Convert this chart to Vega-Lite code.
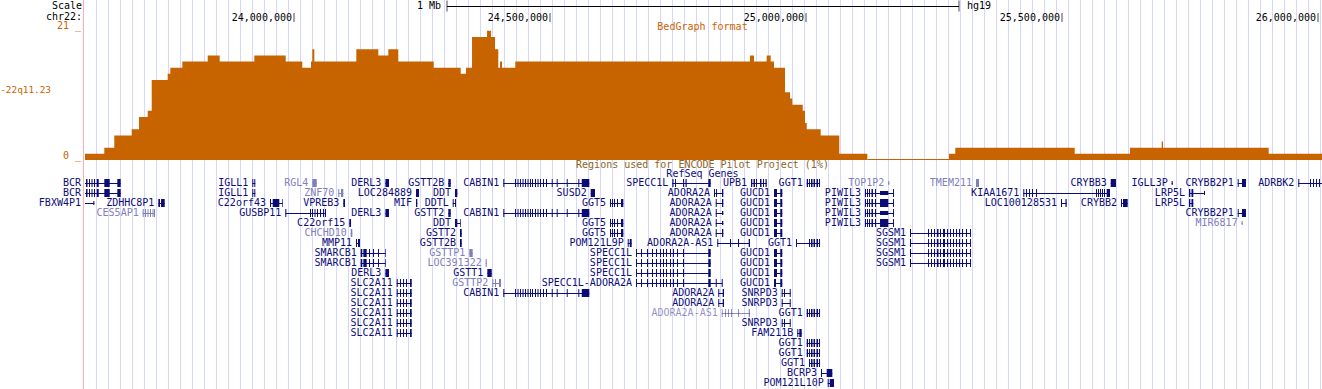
{
"$schema":"https://vega.github.io/schema/vega-lite/v6.json",
"width":1322,"height":389,"padding":0,"autosize":{"type":"none"},"background":"white",
"config":{"view":{"stroke":null},"text":{"font":"DejaVu Sans Mono","fontSize":10}},
"resolve":{"scale":{"y":"independent"}},
"layer":[
{"data":{"values":[{"pos":23614258},{"pos":23637696},{"pos":23661133},{"pos":23684571},{"pos":23708008},{"pos":23731446},{"pos":23754883},{"pos":23778321},{"pos":23801758},{"pos":23825196},{"pos":23848633},{"pos":23872071},{"pos":23895508},{"pos":23918946},{"pos":23942383},{"pos":23965821},{"pos":23989258},{"pos":24012696},{"pos":24036133},{"pos":24059571},{"pos":24083008},{"pos":24106446},{"pos":24129883},{"pos":24153321},{"pos":24176758},{"pos":24200196},{"pos":24223633},{"pos":24247071},{"pos":24270508},{"pos":24293946},{"pos":24317383},{"pos":24340821},{"pos":24364258},{"pos":24387696},{"pos":24411133},{"pos":24434571},{"pos":24458008},{"pos":24481446},{"pos":24504883},{"pos":24528321},{"pos":24551758},{"pos":24575196},{"pos":24598633},{"pos":24622071},{"pos":24645508},{"pos":24668946},{"pos":24692383},{"pos":24715821},{"pos":24739258},{"pos":24762696},{"pos":24786133},{"pos":24809571},{"pos":24833008},{"pos":24856446},{"pos":24879883},{"pos":24903321},{"pos":24926758},{"pos":24950196},{"pos":24973633},{"pos":24997071},{"pos":25020508},{"pos":25043946},{"pos":25067383},{"pos":25090821},{"pos":25114258},{"pos":25137696},{"pos":25161133},{"pos":25184571},{"pos":25208008},{"pos":25231446},{"pos":25254883},{"pos":25278321},{"pos":25301758},{"pos":25325196},{"pos":25348633},{"pos":25372071},{"pos":25395508},{"pos":25418946},{"pos":25442383},{"pos":25465821},{"pos":25489258},{"pos":25512696},{"pos":25536133},{"pos":25559571},{"pos":25583008},{"pos":25606446},{"pos":25629883},{"pos":25653321},{"pos":25676758},{"pos":25700196},{"pos":25723633},{"pos":25747071},{"pos":25770508},{"pos":25793946},{"pos":25817383},{"pos":25840821},{"pos":25864258},{"pos":25887696},{"pos":25911133},{"pos":25934571},{"pos":25958008},{"pos":25981446},{"pos":26004883}]},
 "mark":{"type":"rule","color":"#d6d6ff","strokeWidth":1},
 "encoding":{"x":{"field":"pos","type":"quantitative","scale":{"domain":[23425781,26007812],"nice":false,"zero":false},
  "axis":{"orient":"bottom","grid":false,"labels":false,"ticks":false,"domain":false,"title":null,"values":[24000000]}}}},
{"data":{"values":[{"start":23588800}]},"mark":{"type":"rule","color":"#f2b0b0","strokeWidth":1},
 "encoding":{"x":{"field":"start","type":"quantitative","axis":null}}},
{"data":{"values":[{"pos":23591800,"v":1},{"pos":23629500,"v":2},{"pos":23649000,"v":4},{"pos":23683000,"v":5},{"pos":23697300,"v":7},{"pos":23714300,"v":8},{"pos":23722100,"v":13},{"pos":23753300,"v":14},{"pos":23758400,"v":15},{"pos":23781900,"v":16},{"pos":23831500,"v":17},{"pos":23854900,"v":16},{"pos":23922500,"v":17},{"pos":23983800,"v":16},{"pos":24016200,"v":15},{"pos":24033200,"v":16},{"pos":24035800,"v":18},{"pos":24039700,"v":16},{"pos":24121700,"v":18},{"pos":24164700,"v":17},{"pos":24184200,"v":18},{"pos":24203700,"v":16},{"pos":24272900,"v":15},{"pos":24325600,"v":14},{"pos":24335900,"v":15},{"pos":24347700,"v":20},{"pos":24377000,"v":21},{"pos":24384800,"v":20},{"pos":24392600,"v":18},{"pos":24399000,"v":15},{"pos":24402400,"v":16},{"pos":24406300,"v":15},{"pos":24432200,"v":16},{"pos":24890600,"v":17},{"pos":24898400,"v":16},{"pos":24923200,"v":17},{"pos":24931100,"v":16},{"pos":24937500,"v":15},{"pos":24959000,"v":11},{"pos":24968800,"v":10},{"pos":24973200,"v":9},{"pos":24993600,"v":8},{"pos":24998100,"v":6},{"pos":25001400,"v":5},{"pos":25028700,"v":4},{"pos":25065000,"v":1},{"pos":25119700,"v":0},{"pos":25279300,"v":1},{"pos":25291600,"v":2},{"pos":25524800,"v":1},{"pos":25632800,"v":2},{"pos":25694700,"v":3},{"pos":25697300,"v":2},{"pos":25903700,"v":1},{"pos":26007800,"v":1}]},
 "mark":{"type":"area","interpolate":"step-after","color":"#c86400"},
 "encoding":{"x":{"field":"pos","type":"quantitative","axis":null},
  "y":{"field":"v","type":"quantitative","stack":null,"scale":{"domain":[0,21],"range":[160,30.8]},"axis":null}}},
{"data":{"values":[{"a":25119700,"b":25279300,"v":0}]},
 "mark":{"type":"rule","color":"#c86400","strokeWidth":1},
 "encoding":{"x":{"field":"a","type":"quantitative","axis":null},"x2":{"field":"b"},
  "y":{"field":"v","type":"quantitative","scale":{"domain":[0,21],"range":[159.5,30.3]},"axis":null}}},
{"data":{"values":[{"label":"21 _","v":21},{"label":"0 _","v":0}]},
 "mark":{"type":"text","align":"right","baseline":"alphabetic","dx":-2,"dy":-1.5,"color":"#c86400"},
 "encoding":{"x":{"datum":23587900},"y":{"field":"v","type":"quantitative","scale":{"domain":[0,21],"range":[160,30.8]},"axis":null},"text":{"field":"label"}}},
{"data":{"values":[{"label":"-22q11.23","v":11.4}]},
 "mark":{"type":"text","align":"right","baseline":"middle","dx":-32,"fontSize":9.4,"color":"#c86400"},
 "encoding":{"x":{"datum":23587900},"y":{"field":"v","type":"quantitative","scale":{"domain":[0,21],"range":[160,30.8]},"axis":null},"text":{"field":"label"}}},
{"data":{"values":[{"label":"BedGraph format","v":21.6}]},
 "mark":{"type":"text","align":"center","baseline":"middle","color":"#c86400"},
 "encoding":{"x":{"datum":24797850},"y":{"field":"v","type":"quantitative","scale":{"domain":[0,21],"range":[160,30.8]},"axis":null},"text":{"field":"label"}}},
{"data":{"values":[{"row":"Scale"},{"row":"chr22:"}]},
 "mark":{"type":"text","align":"right","baseline":"middle","dx":-1,"color":"#000000"},
 "encoding":{"x":{"datum":23587900},"y":{"field":"row","type":"nominal","scale":{"type":"point","domain":["Scale","chr22:"],"range":[6,17],"padding":0},"axis":null},"text":{"field":"row"}}},
{"data":{"values":[{"row":"Scale","start":24298800,"end":25298800}]},
 "mark":{"type":"rule","color":"#000000","strokeWidth":1},
 "encoding":{"x":{"field":"start","type":"quantitative","axis":null},"x2":{"field":"end"},
  "y":{"field":"row","type":"nominal","scale":{"type":"point","domain":["Scale","chr22:"],"range":[6.5,18.5],"padding":0},"axis":null}}},
{"data":{"values":[{"row":"Scale","pos":24298800},{"row":"Scale","pos":25298800}]},
 "mark":{"type":"tick","color":"#000000","thickness":1},
 "encoding":{"x":{"field":"pos","type":"quantitative","axis":null},
  "y":{"field":"row","type":"nominal","scale":{"type":"point","domain":["Scale","chr22:"],"range":[6,18],"padding":0},"axis":null},"size":{"value":11}}},
{"data":{"values":[{"row":"Scale","start":24298800,"end":25298800,"left":"1 Mb","right":"hg19"}]},
 "mark":{"type":"text","align":"right","baseline":"middle","dx":-6,"color":"#000000"},
 "encoding":{"x":{"field":"start","type":"quantitative","axis":null},
  "y":{"field":"row","type":"nominal","scale":{"type":"point","domain":["Scale","chr22:"],"range":[6,18],"padding":0},"axis":null},"text":{"field":"left"}}},
{"data":{"values":[{"row":"Scale","start":24298800,"end":25298800,"left":"1 Mb","right":"hg19"}]},
 "mark":{"type":"text","align":"left","baseline":"middle","dx":8,"color":"#000000"},
 "encoding":{"x":{"field":"end","type":"quantitative","axis":null},
  "y":{"field":"row","type":"nominal","scale":{"type":"point","domain":["Scale","chr22:"],"range":[6,18],"padding":0},"axis":null},"text":{"field":"right"}}},
{"data":{"values":[{"row":"chr22:","pos":24000000},{"row":"chr22:","pos":24500000},{"row":"chr22:","pos":25000000},{"row":"chr22:","pos":25500000},{"row":"chr22:","pos":26000000}]},
 "mark":{"type":"tick","color":"#000000","thickness":1},
 "encoding":{"x":{"field":"pos","type":"quantitative","axis":null},
  "y":{"field":"row","type":"nominal","scale":{"type":"point","domain":["Scale","chr22:"],"range":[6,17.5],"padding":0},"axis":null},"size":{"value":9}}},
{"data":{"values":[{"row":"chr22:","pos":24000000},{"row":"chr22:","pos":24500000},{"row":"chr22:","pos":25000000},{"row":"chr22:","pos":25500000},{"row":"chr22:","pos":26000000}]},
 "mark":{"type":"text","align":"right","baseline":"middle","dx":-2,"color":"#000000"},
 "encoding":{"x":{"field":"pos","type":"quantitative","axis":null},
  "y":{"field":"row","type":"nominal","scale":{"type":"point","domain":["Scale","chr22:"],"range":[6,17.5],"padding":0},"axis":null},"text":{"field":"pos","type":"quantitative","format":","}}},
{"data":{"values":[{"label":"Regions used for ENCODE Pilot Project (1%)","lane":-1.83,"t":"e"},{"label":"RefSeq Genes","lane":-0.9,"t":"r"}]},
 "mark":{"type":"text","align":"center","baseline":"middle"},
 "encoding":{"x":{"datum":24797850},"y":{"field":"lane","type":"quantitative","scale":{"domain":[0,20],"range":[183,383]},"axis":null},"text":{"field":"label"},
  "color":{"condition":{"test":"datum.t==='e'","value":"#8c6418"},"value":"#0c0c78"}}},
{"data":{"name":"genes","values":[
{"n":"BCR","y":0,"a":23591800,"b":23661500},{"n":"BCR","y":1,"a":23591800,"b":23661500},
{"n":"IGLL1","y":0,"a":23918600,"b":23924400},{"n":"IGLL1","y":1,"a":23918600,"b":23924400},
{"n":"FBXW4P1","y":2,"a":23591800,"b":23610000},
{"n":"ZDHHC8P1","y":2,"a":23735000,"b":23747500},
{"n":"CES5AP1","y":3,"a":23704500,"b":23728500,"st":"n"},
{"n":"C22orf43","y":2,"a":23953100,"b":23977900},
{"n":"GUSBP11","y":3,"a":23983000,"b":24062500},
{"n":"RGL4","y":0,"a":24035800,"b":24044400,"st":"n"},
{"n":"ZNF70","y":1,"a":24086500,"b":24096300,"st":"n"},
{"n":"VPREB3","y":2,"a":24096300,"b":24099600},
{"n":"C22orf15","y":4,"a":24108000,"b":24111400},
{"n":"CHCHD10","y":5,"a":24110800,"b":24113900,"st":"n"},
{"n":"MMP11","y":6,"a":24121100,"b":24128900},
{"n":"SMARCB1","y":7,"a":24130300,"b":24179100},{"n":"SMARCB1","y":8,"a":24130300,"b":24179100},
{"n":"DERL3","y":0,"a":24178500,"b":24185600},{"n":"DERL3","y":3,"a":24178500,"b":24185600},{"n":"DERL3","y":9,"a":24178500,"b":24185600},
{"n":"SLC2A11","y":10,"a":24200600,"b":24229900},{"n":"SLC2A11","y":11,"a":24200600,"b":24229900},{"n":"SLC2A11","y":12,"a":24200600,"b":24229900},{"n":"SLC2A11","y":13,"a":24200600,"b":24229900},{"n":"SLC2A11","y":14,"a":24200600,"b":24229900},{"n":"SLC2A11","y":15,"a":24200600,"b":24229900},
{"n":"LOC284889","y":1,"a":24238300,"b":24244200},
{"n":"MIF","y":2,"a":24238300,"b":24240800},
{"n":"GSTT2B","y":0,"a":24301400,"b":24306100},
{"n":"GSTT2","y":3,"a":24301400,"b":24306100},
{"n":"DDT","y":1,"a":24314500,"b":24319000},
{"n":"DDTL","y":2,"a":24310000,"b":24316400},
{"n":"DDT","y":4,"a":24314500,"b":24325600},
{"n":"GSTT2","y":5,"a":24324200,"b":24327600},
{"n":"GSTT2B","y":6,"a":24324200,"b":24327600},
{"n":"GSTTP1","y":7,"a":24342400,"b":24349000,"st":"n"},
{"n":"LOC391322","y":8,"a":24374400,"b":24376400,"st":"n"},
{"n":"GSTT1","y":9,"a":24377600,"b":24386200},
{"n":"GSTTP2","y":10,"a":24387300,"b":24404300,"st":"n"},
{"n":"CABIN1","y":0,"a":24408800,"b":24576800},{"n":"CABIN1","y":3,"a":24408800,"b":24576800},{"n":"CABIN1","y":11,"a":24408800,"b":24576800},
{"n":"SUSD2","y":1,"a":24579500,"b":24587900},
{"n":"GGT5","y":2,"a":24617200,"b":24643200},{"n":"GGT5","y":4,"a":24617200,"b":24643200},{"n":"GGT5","y":5,"a":24617200,"b":24643200},
{"n":"POM121L9P","y":6,"a":24651800,"b":24659500},
{"n":"SPECC1L","y":0,"a":24738900,"b":24813900},
{"n":"SPECC1L","y":7,"a":24668000,"b":24813900},{"n":"SPECC1L","y":8,"a":24668000,"b":24813900},{"n":"SPECC1L","y":9,"a":24668000,"b":24813900},
{"n":"SPECC1L-ADORA2A","y":10,"a":24668000,"b":24837300},
{"n":"ADORA2A","y":1,"a":24820300,"b":24838500},
{"n":"ADORA2A","y":2,"a":24823700,"b":24838500},{"n":"ADORA2A","y":3,"a":24823700,"b":24838500},{"n":"ADORA2A","y":4,"a":24823700,"b":24838500},{"n":"ADORA2A","y":5,"a":24823700,"b":24838500},
{"n":"ADORA2A","y":11,"a":24828700,"b":24839900},{"n":"ADORA2A","y":12,"a":24828700,"b":24839900},
{"n":"ADORA2A-AS1","y":6,"a":24826800,"b":24890600},
{"n":"ADORA2A-AS1","y":13,"a":24835400,"b":24890600,"st":"g"},
{"n":"UPB1","y":0,"a":24892600,"b":24923300},
{"n":"GUCD1","y":1,"a":24937500,"b":24953700},{"n":"GUCD1","y":2,"a":24937500,"b":24953700},{"n":"GUCD1","y":3,"a":24937500,"b":24953700},{"n":"GUCD1","y":4,"a":24937500,"b":24953700},{"n":"GUCD1","y":5,"a":24937500,"b":24953700},{"n":"GUCD1","y":7,"a":24937500,"b":24953700},{"n":"GUCD1","y":8,"a":24937500,"b":24953700},{"n":"GUCD1","y":9,"a":24937500,"b":24953700},{"n":"GUCD1","y":10,"a":24937500,"b":24953700},
{"n":"SNRPD3","y":11,"a":24952500,"b":24970100},{"n":"SNRPD3","y":12,"a":24952500,"b":24970100},{"n":"SNRPD3","y":14,"a":24952500,"b":24970100},
{"n":"GGT1","y":0,"a":25001400,"b":25027400},{"n":"GGT1","y":13,"a":25001400,"b":25027400},{"n":"GGT1","y":16,"a":25001400,"b":25027400},{"n":"GGT1","y":17,"a":25001400,"b":25027400},
{"n":"GGT1","y":6,"a":24980500,"b":25027400},
{"n":"GGT1","y":18,"a":25005900,"b":25027400},
{"n":"FAM211B","y":15,"a":24983000,"b":24991600},
{"n":"BCRP3","y":19,"a":25029300,"b":25051400},
{"n":"POM121L10P","y":20,"a":25042400,"b":25054700},
{"n":"TOP1P2","y":0,"a":25160700,"b":25162700,"st":"n"},
{"n":"PIWIL3","y":1,"a":25115200,"b":25171800},{"n":"PIWIL3","y":2,"a":25115200,"b":25171800},{"n":"PIWIL3","y":3,"a":25115200,"b":25171800},{"n":"PIWIL3","y":4,"a":25115200,"b":25171800},
{"n":"SGSM1","y":5,"a":25203100,"b":25322300},{"n":"SGSM1","y":6,"a":25203100,"b":25322300},{"n":"SGSM1","y":7,"a":25203100,"b":25322300},{"n":"SGSM1","y":8,"a":25203100,"b":25322300},
{"n":"TMEM211","y":0,"a":25332000,"b":25337900,"st":"n"},
{"n":"KIAA1671","y":1,"a":25424400,"b":25593700},
{"n":"LOC100128531","y":2,"a":25498000,"b":25509200},
{"n":"CRYBB3","y":0,"a":25595100,"b":25605400},
{"n":"CRYBB2","y":2,"a":25615200,"b":25628300},
{"n":"IGLL3P","y":0,"a":25714200,"b":25716200},
{"n":"LRP5L","y":1,"a":25748000,"b":25779300},
{"n":"LRP5L","y":2,"a":25748000,"b":25756400},
{"n":"CRYBB2P1","y":0,"a":25843200,"b":25859300},{"n":"CRYBB2P1","y":3,"a":25843200,"b":25859300},
{"n":"MIR6817","y":4,"a":25850900,"b":25852900,"st":"n"},
{"n":"ADRBK2","y":0,"a":25961500,"b":26007800}
]},
 "mark":{"type":"rule","strokeWidth":1},
 "encoding":{"x":{"field":"a","type":"quantitative","axis":null},"x2":{"field":"b"},
  "y":{"field":"y","type":"quantitative","scale":{"domain":[0,20],"range":[183.5,383.5]},"axis":null},
  "color":{"condition":{"test":"datum.st==='n'","value":"#8080bb"},"value":"#0c0c78"},
  "opacity":{"condition":{"test":"datum.st==='g'","value":0.45},"value":1}}},
{"data":{"name":"genes"},
 "mark":{"type":"text","align":"right","baseline":"middle","dx":-4},
 "encoding":{"x":{"field":"a","type":"quantitative","axis":null},
  "y":{"field":"y","type":"quantitative","scale":{"domain":[0,20],"range":[183,383]},"axis":null},"text":{"field":"n"},
  "color":{"condition":{"test":"datum.st==='n'","value":"#8080bb"},"value":"#0c0c78"},
  "opacity":{"condition":{"test":"datum.st==='g'","value":0.45},"value":1}}},
{"data":{"values":[
{"y":0,"a":23593800,"b":23596700},{"y":0,"a":23599600,"b":23601600},{"y":0,"a":23604500,"b":23606500},{"y":0,"a":23609400,"b":23611400},{"y":0,"a":23614700,"b":23618600},{"y":0,"a":23629500,"b":23640100},{"y":0,"a":23654900,"b":23661500},
{"y":1,"a":23593800,"b":23596700},{"y":1,"a":23599600,"b":23601600},{"y":1,"a":23604500,"b":23606500},{"y":1,"a":23609400,"b":23611400},{"y":1,"a":23614700,"b":23618600},{"y":1,"a":23629500,"b":23640100},{"y":1,"a":23654900,"b":23661500},
{"y":2,"a":23608000,"b":23610000,"k":"u"},
{"y":2,"a":23735000,"b":23738300},{"y":2,"a":23740300,"b":23747500},
{"y":3,"a":23704500,"b":23706500,"st":"n"},{"y":3,"a":23709000,"b":23711000,"st":"n"},{"y":3,"a":23713900,"b":23715800,"st":"n"},{"y":3,"a":23718800,"b":23720700,"st":"n"},{"y":3,"a":23723700,"b":23725600,"st":"n"},{"y":3,"a":23726600,"b":23728500,"st":"n"},
{"y":0,"a":23918600,"b":23920500},{"y":0,"a":23922500,"b":23924400},{"y":1,"a":23918600,"b":23920500},{"y":1,"a":23922500,"b":23924400},
{"y":2,"a":23953100,"b":23955100},{"y":2,"a":23958400,"b":23971300},{"y":2,"a":23976600,"b":23977900},
{"y":3,"a":23983000,"b":23985000},{"y":3,"a":24031300,"b":24033200},{"y":3,"a":24035200,"b":24037100},{"y":3,"a":24040100,"b":24042000},{"y":3,"a":24044900,"b":24046900},{"y":3,"a":24050800,"b":24052800},{"y":3,"a":24056700,"b":24058600},{"y":3,"a":24060600,"b":24062500},
{"y":0,"a":24035800,"b":24044400,"st":"n"},
{"y":1,"a":24086500,"b":24088500,"st":"n"},{"y":1,"a":24091800,"b":24096300,"st":"n"},
{"y":2,"a":24096300,"b":24099600},
{"y":4,"a":24108000,"b":24111400},
{"y":5,"a":24110800,"b":24113900,"st":"n"},
{"y":6,"a":24121100,"b":24123100},{"y":6,"a":24125000,"b":24128900},
{"y":7,"a":24130300,"b":24133400},{"y":7,"a":24135400,"b":24142000},{"y":7,"a":24146500,"b":24148500},{"y":7,"a":24154300,"b":24156300},{"y":7,"a":24164100,"b":24166000},{"y":7,"a":24177800,"b":24179100},
{"y":8,"a":24130300,"b":24133400},{"y":8,"a":24135400,"b":24142000},{"y":8,"a":24146500,"b":24148500},{"y":8,"a":24154300,"b":24156300},{"y":8,"a":24164100,"b":24166000},{"y":8,"a":24177800,"b":24179100},
{"y":0,"a":24178500,"b":24185600},{"y":3,"a":24178500,"b":24185600},{"y":9,"a":24178500,"b":24185600},
{"y":10,"a":24200600,"b":24202600},{"y":10,"a":24207100,"b":24209000},{"y":10,"a":24212900,"b":24214900},{"y":10,"a":24218800,"b":24220700},{"y":10,"a":24226600,"b":24229900},
{"y":11,"a":24200600,"b":24202600},{"y":11,"a":24207100,"b":24209000},{"y":11,"a":24212900,"b":24214900},{"y":11,"a":24218800,"b":24220700},{"y":11,"a":24226600,"b":24229900},
{"y":12,"a":24200600,"b":24202600},{"y":12,"a":24207100,"b":24209000},{"y":12,"a":24212900,"b":24214900},{"y":12,"a":24218800,"b":24220700},{"y":12,"a":24226600,"b":24229900},
{"y":13,"a":24200600,"b":24202600},{"y":13,"a":24207100,"b":24209000},{"y":13,"a":24212900,"b":24214900},{"y":13,"a":24218800,"b":24220700},{"y":13,"a":24226600,"b":24229900},
{"y":14,"a":24200600,"b":24202600},{"y":14,"a":24207100,"b":24209000},{"y":14,"a":24212900,"b":24214900},{"y":14,"a":24218800,"b":24220700},{"y":14,"a":24226600,"b":24229900},
{"y":15,"a":24200600,"b":24202600},{"y":15,"a":24207100,"b":24209000},{"y":15,"a":24212900,"b":24214900},{"y":15,"a":24218800,"b":24220700},{"y":15,"a":24226600,"b":24229900},
{"y":1,"a":24238300,"b":24244200},{"y":2,"a":24238300,"b":24240800},
{"y":0,"a":24301400,"b":24306100},{"y":3,"a":24301400,"b":24306100},
{"y":1,"a":24314500,"b":24319000},{"y":4,"a":24314500,"b":24319000},{"y":4,"a":24324200,"b":24325600},
{"y":2,"a":24310000,"b":24311900},{"y":2,"a":24314500,"b":24316400},
{"y":5,"a":24324200,"b":24327600},{"y":6,"a":24324200,"b":24327600},
{"y":7,"a":24342400,"b":24349000,"st":"n"},
{"y":8,"a":24374400,"b":24376400,"st":"n"},
{"y":9,"a":24377600,"b":24386200},
{"y":10,"a":24387300,"b":24389300,"st":"n"},{"y":10,"a":24392600,"b":24394600,"st":"n"},{"y":10,"a":24400400,"b":24404300,"st":"n"},
{"y":0,"a":24408800,"b":24410800},{"y":0,"a":24431700,"b":24433600},{"y":0,"a":24436600,"b":24438500},{"y":0,"a":24441500,"b":24443400},{"y":0,"a":24446300,"b":24448300},{"y":0,"a":24451200,"b":24453200},{"y":0,"a":24456100,"b":24458000},{"y":0,"a":24461000,"b":24462900},{"y":0,"a":24464900,"b":24466800},{"y":0,"a":24470700,"b":24472700},{"y":0,"a":24475600,"b":24477600},{"y":0,"a":24480500,"b":24482400},{"y":0,"a":24486300,"b":24488300},{"y":0,"a":24492200,"b":24494200},{"y":0,"a":24503400,"b":24505300},{"y":0,"a":24513100,"b":24515000},{"y":0,"a":24532700,"b":24534600},{"y":0,"a":24555300,"b":24557200},{"y":0,"a":24562000,"b":24576800},
{"y":3,"a":24408800,"b":24410800},{"y":3,"a":24431700,"b":24433600},{"y":3,"a":24436600,"b":24438500},{"y":3,"a":24441500,"b":24443400},{"y":3,"a":24446300,"b":24448300},{"y":3,"a":24451200,"b":24453200},{"y":3,"a":24456100,"b":24458000},{"y":3,"a":24461000,"b":24462900},{"y":3,"a":24464900,"b":24466800},{"y":3,"a":24470700,"b":24472700},{"y":3,"a":24475600,"b":24477600},{"y":3,"a":24480500,"b":24482400},{"y":3,"a":24486300,"b":24488300},{"y":3,"a":24492200,"b":24494200},{"y":3,"a":24503400,"b":24505300},{"y":3,"a":24513100,"b":24515000},{"y":3,"a":24532700,"b":24534600},{"y":3,"a":24555300,"b":24557200},{"y":3,"a":24562000,"b":24576800},
{"y":11,"a":24408800,"b":24410800},{"y":11,"a":24431700,"b":24433600},{"y":11,"a":24436600,"b":24438500},{"y":11,"a":24441500,"b":24443400},{"y":11,"a":24446300,"b":24448300},{"y":11,"a":24451200,"b":24453200},{"y":11,"a":24456100,"b":24458000},{"y":11,"a":24461000,"b":24462900},{"y":11,"a":24464900,"b":24466800},{"y":11,"a":24470700,"b":24472700},{"y":11,"a":24475600,"b":24477600},{"y":11,"a":24480500,"b":24482400},{"y":11,"a":24486300,"b":24488300},{"y":11,"a":24492200,"b":24494200},{"y":11,"a":24503400,"b":24505300},{"y":11,"a":24513100,"b":24515000},{"y":11,"a":24532700,"b":24534600},{"y":11,"a":24555300,"b":24557200},{"y":11,"a":24562000,"b":24576800},
{"y":1,"a":24579500,"b":24587900},
{"y":2,"a":24617200,"b":24619200},{"y":2,"a":24621100,"b":24623100},{"y":2,"a":24625000,"b":24627000},{"y":2,"a":24630900,"b":24632800},{"y":2,"a":24638700,"b":24643200},
{"y":4,"a":24617200,"b":24619200},{"y":4,"a":24621100,"b":24623100},{"y":4,"a":24625000,"b":24627000},{"y":4,"a":24630900,"b":24632800},{"y":4,"a":24638700,"b":24643200},
{"y":5,"a":24617200,"b":24619200},{"y":5,"a":24621100,"b":24623100},{"y":5,"a":24625000,"b":24627000},{"y":5,"a":24630900,"b":24632800},{"y":5,"a":24638700,"b":24643200},
{"y":6,"a":24651800,"b":24653700},{"y":6,"a":24655700,"b":24659500},
{"y":7,"a":24668000,"b":24669900},{"y":7,"a":24677800,"b":24679700},{"y":7,"a":24689500,"b":24691400},{"y":7,"a":24699200,"b":24701200},{"y":7,"a":24707100,"b":24709000},{"y":7,"a":24714900,"b":24716800},{"y":7,"a":24720700,"b":24722700},{"y":7,"a":24726600,"b":24728500},{"y":7,"a":24734400,"b":24736300},{"y":7,"a":24740300,"b":24742200},{"y":7,"a":24748100,"b":24750000},{"y":7,"a":24759800,"b":24761700},{"y":7,"a":24809200,"b":24813900},
{"y":8,"a":24668000,"b":24669900},{"y":8,"a":24677800,"b":24679700},{"y":8,"a":24689500,"b":24691400},{"y":8,"a":24699200,"b":24701200},{"y":8,"a":24707100,"b":24709000},{"y":8,"a":24714900,"b":24716800},{"y":8,"a":24720700,"b":24722700},{"y":8,"a":24726600,"b":24728500},{"y":8,"a":24734400,"b":24736300},{"y":8,"a":24740300,"b":24742200},{"y":8,"a":24748100,"b":24750000},{"y":8,"a":24759800,"b":24761700},{"y":8,"a":24809200,"b":24813900},
{"y":9,"a":24668000,"b":24669900},{"y":9,"a":24677800,"b":24679700},{"y":9,"a":24689500,"b":24691400},{"y":9,"a":24699200,"b":24701200},{"y":9,"a":24707100,"b":24709000},{"y":9,"a":24714900,"b":24716800},{"y":9,"a":24720700,"b":24722700},{"y":9,"a":24726600,"b":24728500},{"y":9,"a":24734400,"b":24736300},{"y":9,"a":24740300,"b":24742200},{"y":9,"a":24748100,"b":24750000},{"y":9,"a":24759800,"b":24761700},{"y":9,"a":24809200,"b":24813900},
{"y":10,"a":24668000,"b":24669900},{"y":10,"a":24677800,"b":24679700},{"y":10,"a":24689500,"b":24691400},{"y":10,"a":24699200,"b":24701200},{"y":10,"a":24707100,"b":24709000},{"y":10,"a":24714900,"b":24716800},{"y":10,"a":24720700,"b":24722700},{"y":10,"a":24726600,"b":24728500},{"y":10,"a":24734400,"b":24736300},{"y":10,"a":24740300,"b":24742200},{"y":10,"a":24748100,"b":24750000},{"y":10,"a":24759800,"b":24761700},{"y":10,"a":24809200,"b":24813900},{"y":10,"a":24823700,"b":24825600},{"y":10,"a":24835400,"b":24837300},
{"y":0,"a":24738900,"b":24741200},{"y":0,"a":24744200,"b":24746100},{"y":0,"a":24759800,"b":24761700},{"y":0,"a":24764700,"b":24767000},{"y":0,"a":24809200,"b":24813900},
{"y":1,"a":24820300,"b":24822300},{"y":1,"a":24824300,"b":24826200},{"y":1,"a":24836000,"b":24838500},
{"y":2,"a":24823700,"b":24825600},{"y":2,"a":24836000,"b":24838500},
{"y":3,"a":24823700,"b":24825600},{"y":3,"a":24836000,"b":24838500,"k":"u"},
{"y":4,"a":24823700,"b":24825600},{"y":4,"a":24836000,"b":24838500,"k":"u"},
{"y":5,"a":24823700,"b":24825600},{"y":5,"a":24836000,"b":24838500},
{"y":11,"a":24828700,"b":24830600},{"y":11,"a":24837300,"b":24839900},
{"y":12,"a":24828700,"b":24830600},{"y":12,"a":24837300,"b":24839900},
{"y":6,"a":24826800,"b":24828700},{"y":6,"a":24851600,"b":24853500},{"y":6,"a":24867200,"b":24869200},{"y":6,"a":24888100,"b":24890600},
{"y":13,"a":24835400,"b":24837300,"st":"g"},{"y":13,"a":24841800,"b":24843800,"st":"g"},{"y":13,"a":24847700,"b":24849600,"st":"g"},{"y":13,"a":24853500,"b":24855500,"st":"g"},{"y":13,"a":24867200,"b":24869200,"st":"g"},{"y":13,"a":24888100,"b":24890600,"st":"g"},
{"y":0,"a":24892600,"b":24895100},{"y":0,"a":24897500,"b":24900400},{"y":0,"a":24902400,"b":24904300},{"y":0,"a":24910200,"b":24913100},{"y":0,"a":24916000,"b":24918000},{"y":0,"a":24920900,"b":24923300},
{"y":1,"a":24937500,"b":24943400},{"y":1,"a":24949800,"b":24953700},
{"y":2,"a":24937500,"b":24943400},{"y":2,"a":24949800,"b":24953700},
{"y":3,"a":24937500,"b":24943400},{"y":3,"a":24949800,"b":24953700},
{"y":4,"a":24937500,"b":24943400},{"y":4,"a":24949800,"b":24953700},
{"y":5,"a":24937500,"b":24943400},{"y":5,"a":24949800,"b":24953700},
{"y":7,"a":24937500,"b":24943400},{"y":7,"a":24949800,"b":24953700},
{"y":8,"a":24937500,"b":24943400},{"y":8,"a":24949800,"b":24953700},
{"y":9,"a":24937500,"b":24943400},{"y":9,"a":24949800,"b":24953700},
{"y":10,"a":24937500,"b":24941400},{"y":10,"a":24949800,"b":24953700},
{"y":11,"a":24952500,"b":24954500},{"y":11,"a":24957000,"b":24959000},{"y":11,"a":24968200,"b":24970100},
{"y":12,"a":24952500,"b":24954500},{"y":12,"a":24968200,"b":24970100},
{"y":14,"a":24952500,"b":24954500},{"y":14,"a":24957000,"b":24959000},{"y":14,"a":24968200,"b":24970100},
{"y":0,"a":25001400,"b":25003900},{"y":0,"a":25005900,"b":25007800},{"y":0,"a":25009800,"b":25012700},{"y":0,"a":25014700,"b":25017600},{"y":0,"a":25020500,"b":25023500},{"y":0,"a":25025400,"b":25027400},
{"y":6,"a":24980500,"b":24982400},{"y":6,"a":25005900,"b":25007800},{"y":6,"a":25009800,"b":25012700},{"y":6,"a":25014700,"b":25017600},{"y":6,"a":25020500,"b":25023500},{"y":6,"a":25025400,"b":25027400},
{"y":13,"a":25001400,"b":25003900},{"y":13,"a":25005900,"b":25007800},{"y":13,"a":25009800,"b":25012700},{"y":13,"a":25014700,"b":25017600},{"y":13,"a":25020500,"b":25023500},{"y":13,"a":25025400,"b":25027400},
{"y":16,"a":25001400,"b":25003900},{"y":16,"a":25005900,"b":25007800},{"y":16,"a":25009800,"b":25012700},{"y":16,"a":25014700,"b":25017600},{"y":16,"a":25020500,"b":25023500},{"y":16,"a":25025400,"b":25027400},
{"y":17,"a":25001400,"b":25003900},{"y":17,"a":25005900,"b":25007800},{"y":17,"a":25009800,"b":25012700},{"y":17,"a":25014700,"b":25017600},{"y":17,"a":25020500,"b":25023500},{"y":17,"a":25025400,"b":25027400},
{"y":18,"a":25005900,"b":25007800},{"y":18,"a":25009800,"b":25012700},{"y":18,"a":25014700,"b":25017600},{"y":18,"a":25020500,"b":25023500},{"y":18,"a":25025400,"b":25027400},
{"y":15,"a":24983000,"b":24985000},{"y":15,"a":24986900,"b":24991600},
{"y":19,"a":25029300,"b":25031300},{"y":19,"a":25040400,"b":25051400},
{"y":20,"a":25042400,"b":25044300},{"y":20,"a":25046300,"b":25054700},
{"y":0,"a":25160700,"b":25162700,"st":"n","k":"u"},
{"y":1,"a":25115200,"b":25117200},{"y":1,"a":25119100,"b":25121100},{"y":1,"a":25123000,"b":25125000},{"y":1,"a":25127900,"b":25130800},{"y":1,"a":25134700,"b":25136700},{"y":1,"a":25144500,"b":25160700,"k":"u"},{"y":1,"a":25169900,"b":25171800},
{"y":2,"a":25115200,"b":25117200},{"y":2,"a":25119100,"b":25121100},{"y":2,"a":25123000,"b":25125000},{"y":2,"a":25127900,"b":25130800},{"y":2,"a":25134700,"b":25136700},{"y":2,"a":25144500,"b":25160700},{"y":2,"a":25169900,"b":25171800},
{"y":3,"a":25115200,"b":25117200},{"y":3,"a":25119100,"b":25121100},{"y":3,"a":25123000,"b":25125000},{"y":3,"a":25127900,"b":25130800},{"y":3,"a":25134700,"b":25136700},{"y":3,"a":25144500,"b":25160700,"k":"u"},{"y":3,"a":25169900,"b":25171800},
{"y":4,"a":25115200,"b":25117200},{"y":4,"a":25119100,"b":25121100},{"y":4,"a":25123000,"b":25125000},{"y":4,"a":25127900,"b":25130800},{"y":4,"a":25134700,"b":25136700},{"y":4,"a":25144500,"b":25160700},{"y":4,"a":25169900,"b":25171800},
{"y":5,"a":25203100,"b":25205100},{"y":5,"a":25238300,"b":25240200},{"y":5,"a":25244100,"b":25246100},{"y":5,"a":25250000,"b":25252000},{"y":5,"a":25255900,"b":25258800},{"y":5,"a":25261700,"b":25263700},{"y":5,"a":25267600,"b":25271500},{"y":5,"a":25275400,"b":25277400},{"y":5,"a":25281300,"b":25283200},{"y":5,"a":25287100,"b":25289100},{"y":5,"a":25293000,"b":25295000},{"y":5,"a":25298900,"b":25300800},{"y":5,"a":25304700,"b":25306700},{"y":5,"a":25312500,"b":25314500},{"y":5,"a":25320400,"b":25322300},
{"y":6,"a":25203100,"b":25205100},{"y":6,"a":25238300,"b":25240200},{"y":6,"a":25244100,"b":25246100},{"y":6,"a":25250000,"b":25252000},{"y":6,"a":25255900,"b":25258800},{"y":6,"a":25261700,"b":25263700},{"y":6,"a":25267600,"b":25271500},{"y":6,"a":25275400,"b":25277400},{"y":6,"a":25281300,"b":25283200},{"y":6,"a":25287100,"b":25289100},{"y":6,"a":25293000,"b":25295000},{"y":6,"a":25298900,"b":25300800},{"y":6,"a":25304700,"b":25306700},{"y":6,"a":25312500,"b":25314500},{"y":6,"a":25320400,"b":25322300},
{"y":7,"a":25203100,"b":25205100},{"y":7,"a":25238300,"b":25240200},{"y":7,"a":25244100,"b":25246100},{"y":7,"a":25250000,"b":25252000},{"y":7,"a":25255900,"b":25258800},{"y":7,"a":25261700,"b":25263700},{"y":7,"a":25267600,"b":25271500},{"y":7,"a":25275400,"b":25277400},{"y":7,"a":25281300,"b":25283200},{"y":7,"a":25287100,"b":25289100},{"y":7,"a":25293000,"b":25295000},{"y":7,"a":25298900,"b":25300800},{"y":7,"a":25304700,"b":25306700},{"y":7,"a":25312500,"b":25314500},{"y":7,"a":25320400,"b":25322300},
{"y":8,"a":25203100,"b":25205100},{"y":8,"a":25238300,"b":25240200},{"y":8,"a":25244100,"b":25246100},{"y":8,"a":25250000,"b":25252000},{"y":8,"a":25255900,"b":25258800},{"y":8,"a":25261700,"b":25263700},{"y":8,"a":25267600,"b":25271500},{"y":8,"a":25275400,"b":25277400},{"y":8,"a":25281300,"b":25283200},{"y":8,"a":25287100,"b":25289100},{"y":8,"a":25293000,"b":25295000},{"y":8,"a":25298900,"b":25300800},{"y":8,"a":25304700,"b":25306700},{"y":8,"a":25312500,"b":25314500},{"y":8,"a":25320400,"b":25322300},
{"y":0,"a":25332000,"b":25337900,"st":"n"},
{"y":1,"a":25424400,"b":25426400},{"y":1,"a":25429700,"b":25431700},{"y":1,"a":25435600,"b":25437500},{"y":1,"a":25441400,"b":25443400},{"y":1,"a":25449300,"b":25451200},{"y":1,"a":25566400,"b":25568400},{"y":1,"a":25570300,"b":25572300},{"y":1,"a":25574200,"b":25576200},{"y":1,"a":25578100,"b":25580100},{"y":1,"a":25582000,"b":25584000},{"y":1,"a":25587300,"b":25593700},
{"y":2,"a":25498000,"b":25500000},{"y":2,"a":25506800,"b":25509200},
{"y":0,"a":25595100,"b":25605400},
{"y":2,"a":25615200,"b":25617200},{"y":2,"a":25619100,"b":25628300},
{"y":0,"a":25714200,"b":25716200,"k":"u"},
{"y":1,"a":25748000,"b":25750600},{"y":1,"a":25752900,"b":25756400},{"y":1,"a":25777300,"b":25779300,"k":"u"},
{"y":2,"a":25748000,"b":25750600},{"y":2,"a":25752900,"b":25756400},
{"y":0,"a":25843200,"b":25845100},{"y":0,"a":25851500,"b":25859300},
{"y":3,"a":25843200,"b":25845100},{"y":3,"a":25851500,"b":25859300},
{"y":4,"a":25850900,"b":25852900,"st":"n","k":"u"},
{"y":0,"a":25961500,"b":25963500},{"y":0,"a":25984400,"b":25986300},{"y":0,"a":25990200,"b":25992200},{"y":0,"a":25996100,"b":25998000},{"y":0,"a":26001900,"b":26003900}
]},
 "mark":{"type":"rule","strokeCap":"butt"},
 "encoding":{"x":{"field":"a","type":"quantitative","axis":null},"x2":{"field":"b"},
  "y":{"field":"y","type":"quantitative","scale":{"domain":[0,20],"range":[183,383]},"axis":null},
  "size":{"condition":{"test":"datum.k==='u'","value":4},"value":8},
  "color":{"condition":{"test":"datum.st==='n'","value":"#8080bb"},"value":"#0c0c78"},
  "opacity":{"condition":{"test":"datum.st==='g'","value":0.45},"value":1}}}
]
}
